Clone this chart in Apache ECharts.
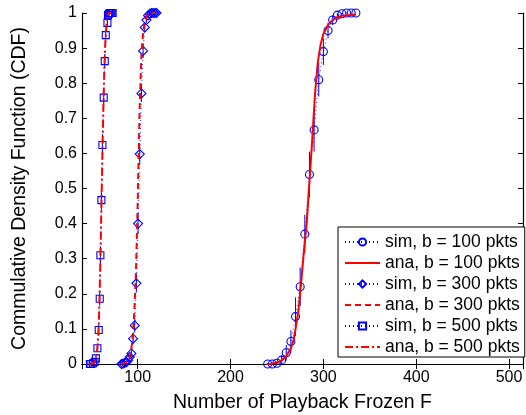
<!DOCTYPE html>
<html lang="en">
<head>
    <meta charset="UTF-8">
    <title>CDF of Playback Frozen</title>
    <script src="https://cdn.jsdelivr.net/npm/echarts@6/dist/echarts.min.js"></script>
    <style>
        html, body { margin: 0; padding: 0; background: #fff; }
    </style>
</head>
<body>
    <div id="chart" style="width: 526px; height: 415px;"></div>

    <script>
        // simulation points (x, CDF, error half-length)
        var simX100 = [240, 245, 250, 255, 260, 265, 270, 275, 280, 285, 290, 295, 300, 305, 310, 315, 320, 325, 330, 335];
        var simY100 = [0, 0, 0.002, 0.011, 0.032, 0.064, 0.135, 0.22, 0.37, 0.54, 0.667, 0.81, 0.89, 0.95, 0.98, 0.994, 0.998, 1, 1, 1];
        var simE100 = [0, 0.003, 0.005, 0.013, 0.022, 0.032, 0.055, 0.055, 0.055, 0.065, 0.062, 0.048, 0.038, 0.022, 0.013, 0.005, 0.002, 0, 0, 0];

        var simX300 = [82.5, 84.2, 86, 87.8, 89.6, 91.4, 93.2, 95, 96.8, 98.6, 100.4, 102.2, 104, 105.8, 107.6, 109.4, 111.2, 113, 114.8, 116.6, 118.4, 120.2];
        var simY300 = [0, 0.001, 0.003, 0.005, 0.011, 0.02, 0.03, 0.072, 0.11, 0.23, 0.4, 0.598, 0.771, 0.892, 0.959, 0.98, 0.993, 0.998, 1, 1, 1, 1];
        var simE300 = [0, 0, 0.002, 0.003, 0.005, 0.008, 0.01, 0.015, 0.02, 0.025, 0.03, 0.03, 0.025, 0.02, 0.012, 0.008, 0.004, 0.002, 0, 0, 0, 0];

        var simX500 = [48.5, 50.1, 51.9, 53.6, 55, 56.6, 58, 59.1, 59.8, 60.9, 62, 63.4, 64.5, 65.6, 67.4, 68, 69, 70, 71, 72, 73];
        var simY500 = [0, 0, 0.002, 0.006, 0.016, 0.045, 0.097, 0.186, 0.31, 0.467, 0.624, 0.759, 0.863, 0.937, 0.972, 0.994, 0.998, 1, 1, 1, 1];
        var simE500 = [0, 0, 0.002, 0.003, 0.006, 0.01, 0.015, 0.02, 0.025, 0.03, 0.03, 0.025, 0.02, 0.012, 0.008, 0.004, 0.002, 0, 0, 0, 0];

        // analytical curves
        var anaX100 = [239, 245, 250, 255, 260, 265, 268, 270, 273, 276, 279, 282, 285, 288, 291, 294, 297, 300, 305, 310, 315, 320, 330, 335];
        var anaY100 = [0, 0.001, 0.004, 0.01, 0.022, 0.045, 0.07, 0.1, 0.15, 0.23, 0.32, 0.4, 0.52, 0.64, 0.77, 0.86, 0.91, 0.94, 0.966, 0.98, 0.988, 0.992, 0.994, 0.995];

        var anaX300 = [82.5, 84, 86, 88, 90, 92, 94, 96, 98, 100, 102, 104, 106, 108, 110, 112, 114, 118];
        var anaY300 = [0, 0.001, 0.002, 0.004, 0.01, 0.025, 0.06, 0.13, 0.25, 0.46, 0.72, 0.88, 0.95, 0.98, 0.993, 0.998, 1, 1];

        var anaX500 = [48.5, 52, 54, 56, 57, 58, 59, 60, 61, 62, 63, 64, 65, 66, 67, 68, 69, 72];
        var anaY500 = [0, 0.002, 0.008, 0.03, 0.06, 0.11, 0.2, 0.32, 0.46, 0.6, 0.73, 0.84, 0.91, 0.955, 0.98, 0.993, 1, 1];

        var legendNames = ['sim, b = 100 pkts', 'ana, b = 100 pkts', 'sim, b = 300 pkts',
                           'ana, b = 300 pkts', 'sim, b = 500 pkts', 'ana, b = 500 pkts'];

        var BLUE = '#0000ff';
        var RED = '#ff0000';
        var FONT = 'Liberation Sans, Arial, sans-serif';

        function zip(xs, ys) {
            return xs.map(function (x, i) { return [x, ys[i]]; });
        }
        function zip3(xs, ys, es) {
            return xs.map(function (x, i) { return [x, ys[i], es[i]]; });
        }

        function simSeries(name, xs, ys, symbol, size) {
            return {
                name: name,
                type: 'line',
                data: zip(xs, ys),
                symbol: symbol,
                symbolSize: size,
                showAllSymbol: true,
                lineStyle: { color: BLUE, width: 0.8, type: [1, 3] },
                itemStyle: { color: 'rgba(0,0,0,0)', borderColor: BLUE, borderWidth: 1.1 },
                z: 3
            };
        }
        function anaSeries(name, xs, ys, dash) {
            return {
                name: name,
                type: 'line',
                data: zip(xs, ys),
                symbol: 'none',
                lineStyle: { color: RED, width: 2, type: dash },
                itemStyle: { color: RED },
                z: 4
            };
        }
        function errSeries(xs, ys, es) {
            return {
                type: 'custom',
                data: zip3(xs, ys, es),
                clip: true,
                z: 2,
                renderItem: function (params, api) {
                    var x = api.value(0), y = api.value(1), e = api.value(2);
                    var p1 = api.coord([x, y - e]);
                    var p2 = api.coord([x, y + e]);
                    return {
                        type: 'line',
                        shape: { x1: p1[0], y1: p1[1], x2: p2[0], y2: p2[1] },
                        style: { stroke: BLUE, lineWidth: 1 }
                    };
                }
            };
        }

        // legend entries: ana lines show no marker
        var legendData = legendNames.map(function (n, i) {
            return i % 2 === 1 ? { name: n, itemStyle: { opacity: 0 } } : { name: n };
        });

        var chart = echarts.init(document.getElementById('chart'));

        var axisLineStyle = { color: '#000', width: 1.2 };

        var options = {
            animation: false,
            backgroundColor: '#fff',
            textStyle: { fontFamily: FONT },
            grid: { left: 82, right: 3, top: 13, bottom: 51, outerBoundsMode: 'none', containLabel: false },
            legend: {
                data: legendData,
                orient: 'vertical',
                left: 338,
                top: 227,
                itemWidth: 35,
                itemHeight: 9,
                itemGap: 3,
                padding: [6, 5, 1, 6],
                backgroundColor: '#fff',
                borderColor: '#000',
                borderWidth: 1,
                borderRadius: 0,
                selectedMode: false,
                textStyle: { fontSize: 17.5, color: '#000', fontFamily: FONT, lineHeight: 18 }
            },
            xAxis: [{
                type: 'value',
                min: 40,
                max: 515,
                position: 'bottom',
                name: 'Number of Playback Frozen F',
                nameLocation: 'middle',
                nameGap: 29,
                nameTextStyle: { fontSize: 19.5, color: '#000', fontFamily: FONT },
                axisLine: { show: true, lineStyle: axisLineStyle },
                axisTick: { show: true, inside: true, length: 5, lineStyle: { color: '#000' } },
                axisLabel: { fontSize: 16, color: '#000', margin: 6, showMinLabel: false, showMaxLabel: false },
                splitLine: { show: false }
            }, {
                type: 'value',
                min: 40,
                max: 515,
                position: 'top',
                axisLine: { show: true, lineStyle: axisLineStyle },
                axisTick: { show: true, inside: true, length: 5, lineStyle: { color: '#000' } },
                axisLabel: { show: false },
                splitLine: { show: false }
            }],
            yAxis: [{
                type: 'value',
                min: 0,
                max: 1,
                interval: 0.1,
                position: 'left',
                name: 'Commulative Density Function (CDF)',
                nameLocation: 'middle',
                nameGap: 52,
                nameTextStyle: { fontSize: 19.5, color: '#000', fontFamily: FONT },
                axisLine: { show: true, lineStyle: axisLineStyle },
                axisTick: { show: true, inside: true, length: 5, lineStyle: { color: '#000' } },
                axisLabel: { fontSize: 16, color: '#000', margin: 5 },
                splitLine: { show: false }
            }, {
                type: 'value',
                min: 0,
                max: 1,
                interval: 0.1,
                position: 'right',
                axisLine: { show: true, lineStyle: axisLineStyle },
                axisTick: { show: true, inside: true, length: 5, lineStyle: { color: '#000' } },
                axisLabel: { show: false },
                splitLine: { show: false }
            }],
            series: [
                errSeries(simX100, simY100, simE100),
                simSeries(legendNames[0], simX100, simY100, 'circle', 8),
                anaSeries(legendNames[1], anaX100, anaY100, 'solid'),
                errSeries(simX300, simY300, simE300),
                simSeries(legendNames[2], simX300, simY300, 'diamond', 9),
                anaSeries(legendNames[3], anaX300, anaY300, [6, 4]),
                errSeries(simX500, simY500, simE500),
                simSeries(legendNames[4], simX500, simY500, 'rect', 7),
                anaSeries(legendNames[5], anaX500, anaY500, [8, 3, 2, 3])
            ]
        };

        chart.setOption(options);
    </script>
</body>
</html>
